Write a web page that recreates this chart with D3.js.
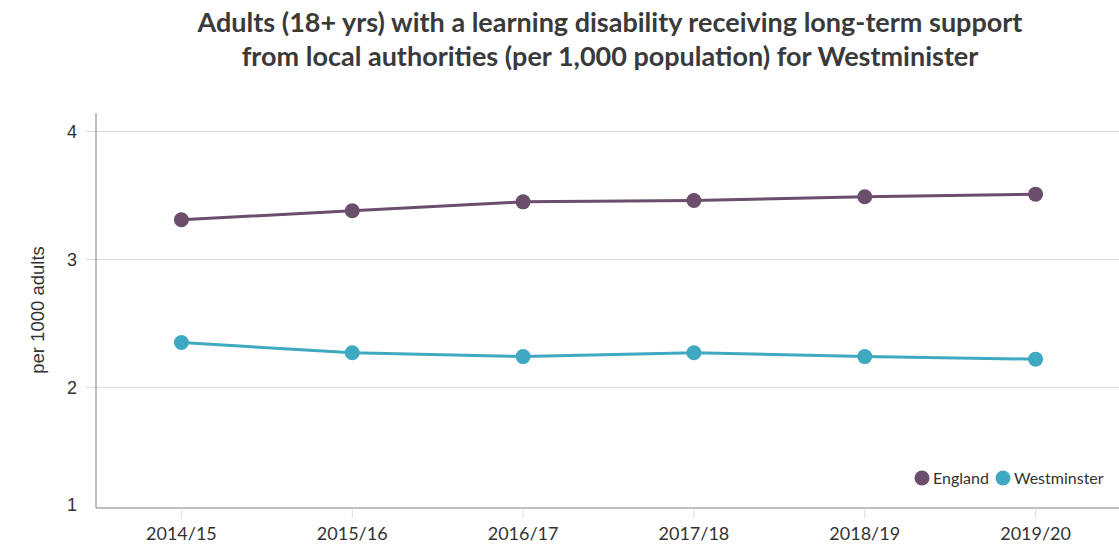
<!DOCTYPE html>
<html>
<head>
<meta charset="utf-8">
<script src="https://cdn.jsdelivr.net/npm/d3@7"></script>
<style>
  html, body { margin: 0; padding: 0; background: #fff; }
  svg { display: block; font-family: Lato, "Open Sans", sans-serif; }
</style>
</head>
<body>
<svg id="chart" width="1119" height="546"></svg>
<script>
// Financial years on the x axis
const years = ["2014/15", "2015/16", "2016/17", "2017/18", "2018/19", "2019/20"];
// Rate per 1,000 adults
const england = [3.31, 3.38, 3.45, 3.46, 3.49, 3.51];
const westminster = [2.35, 2.27, 2.24, 2.27, 2.24, 2.22];
const seriesNames = ["England", "Westminster"];
const yTicks = [1, 2, 3, 4];
const titleLines = [
  "Adults (18+ yrs) with a learning disability receiving long-term support",
  "from local authorities (per 1,000 population) for Westminister"
];

const colors = { England: "#6b4d6c", Westminster: "#40a9c2" };
const sansFont = "'Liberation Sans', Arial, sans-serif";

const svg = d3.select("#chart");
const plotLeft = 96, plotRight = 1121, plotTop = 113, plotBottom = 508;

const x = d3.scaleBand().domain(years).range([plotLeft, plotRight]);
// The lowest tick sits on the axis floor, slightly compressed below 2
const y = d3.scaleLinear().domain([1, 2, 4]).range([plotBottom, 387.3, 131.5]);

// Title
svg.append("g").selectAll("text").data(titleLines).join("text")
  .attr("x", 610).attr("y", (d, i) => 32 + i * 34)
  .attr("text-anchor", "middle")
  .attr("font-size", 27).attr("font-weight", 700)
  .attr("fill", "#3a3a3a")
  .text(d => d);

// Gridlines
svg.append("g").selectAll("line").data(yTicks.filter(t => t > 1)).join("line")
  .attr("x1", 86).attr("x2", 1119)
  .attr("y1", d => y(d)).attr("y2", d => y(d))
  .attr("stroke", "#dcdcdc").attr("stroke-width", 1);

// Y axis
const yAxis = svg.append("g").attr("transform", `translate(${plotLeft},0)`)
  .call(d3.axisLeft(y).tickValues(yTicks).tickSize(0).tickPadding(19).tickFormat(d3.format("d")));
yAxis.select(".domain").remove();
yAxis.selectAll("text").attr("font-size", 18).attr("fill", "#333").attr("font-family", sansFont)
  .attr("dy", d => d === 1 ? "0.15em" : "0.35em");
svg.append("line").attr("x1", plotLeft).attr("x2", plotLeft).attr("y1", plotTop).attr("y2", plotBottom)
  .attr("stroke", "#aaa").attr("stroke-width", 1.5);

// X axis
const xAxis = svg.append("g").attr("transform", `translate(0,${plotBottom})`)
  .call(d3.axisBottom(x).tickSizeOuter(0).tickSizeInner(10).tickPadding(9));
xAxis.select(".domain").attr("stroke", "#aaa").attr("stroke-width", 1.5)
  .attr("d", `M${plotLeft},0H1119`);
xAxis.selectAll(".tick line").attr("stroke", "#dcdcdc");
xAxis.selectAll("text").attr("font-size", 18).attr("fill", "#333").attr("font-family", "Lato, sans-serif");

// Y axis title
svg.append("text")
  .attr("transform", `translate(44,310) rotate(-90)`)
  .attr("text-anchor", "middle")
  .attr("font-size", 18.5).attr("fill", "#333").attr("font-family", sansFont)
  .text("per 1000 adults");

// Series
const series = [
  { name: "England", values: england },
  { name: "Westminster", values: westminster }
];
const cx = d => x(d) + x.bandwidth() / 2;
const line = d3.line().x((v, i) => cx(years[i])).y(v => y(v));

const g = svg.append("g").selectAll("g").data(series).join("g");
g.append("path")
  .attr("d", d => line(d.values))
  .attr("fill", "none")
  .attr("stroke", d => colors[d.name])
  .attr("stroke-width", 3);
g.selectAll("circle").data(d => d.values.map((v, i) => ({ v, i, name: d.name }))).join("circle")
  .attr("cx", d => cx(years[d.i]))
  .attr("cy", d => y(d.v))
  .attr("r", 7.5)
  .attr("fill", d => colors[d.name]);

// Legend
const legendItems = [
  { name: seriesNames[0], cx: 922, tx: 933 },
  { name: seriesNames[1], cx: 1003, tx: 1014 }
];
const lg = svg.append("g").selectAll("g").data(legendItems).join("g");
lg.append("circle").attr("cx", d => d.cx).attr("cy", 478).attr("r", 7.5)
  .attr("fill", d => colors[d.name]);
lg.append("text").attr("x", d => d.tx).attr("y", 484)
  .attr("font-size", 16).attr("fill", "#333")
  .text(d => d.name);
</script>
</body>
</html>
